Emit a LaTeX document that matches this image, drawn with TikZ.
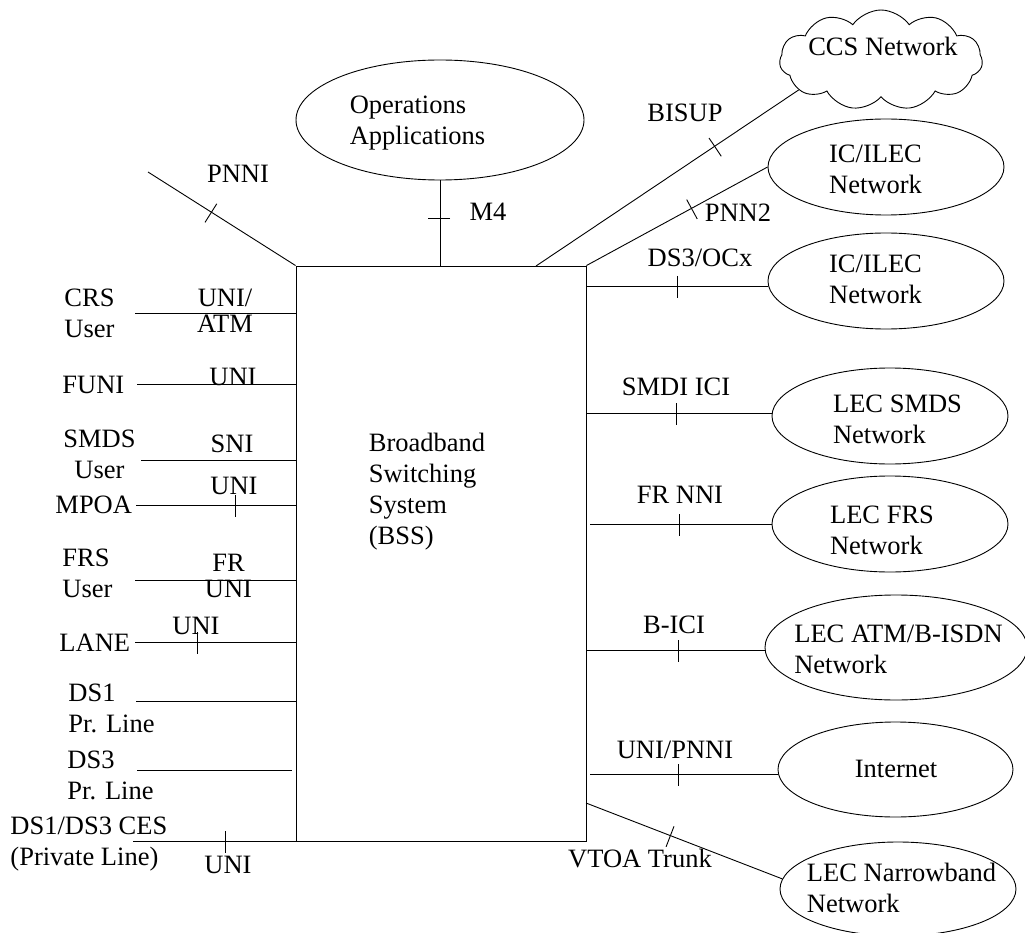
\documentclass[tikz,border=0pt]{standalone}
\usepackage{fontspec}
\setmainfont{Liberation Serif}
\usetikzlibrary{shapes.geometric,shapes.symbols,decorations.markings,positioning}

\tikzset{
  txt/.style={font=\fontsize{26.5}{31}\selectfont, inner sep=0pt},
  tight/.style={font=\fontsize{26.5}{26}\selectfont, inner sep=0pt, align=center},
  net/.style={draw, ellipse, inner sep=0pt, minimum width=236, minimum height=96},
  crossmark/.style={decoration={markings, mark=at position #1 with {\draw (0,-10) -- (0,12);}}, postaction={decorate}}
}

\begin{document}
\begin{tikzpicture}[x=1pt,y=-1pt,line width=0.9pt]
	\useasboundingbox (0,0) rectangle (1025,933);
	% switch
	\node[draw, inner sep=0pt, minimum width=290, minimum height=575] (bss) at (441,553.5) {};
	\node[txt, align=left] (bss-txt) at (427,492) {Broadband\\Switching\\System\\(BSS)};
	% networks
	\node[net, minimum width=288, minimum height=120] (ops) at (440,120) {};
	\node[cloud, draw, cloud puffs=11, cloud puff arc=110, aspect=2.1, inner sep=0pt, minimum width=203, minimum height=100] (ccs) at (881,60) {};
	\node[net] (ic1) at (886,167) {};
	\node[net] (ic2) at (886,281) {};
	\node[net] (smds) at (890,416) {};
	\node[net] (frs) at (890,524) {};
	\node[net, minimum width=262, minimum height=105] (atm) at (896,647.5) {};
	\node[net, minimum width=235, minimum height=95] (inet) at (895.5,769.5) {};
	\node[net, minimum height=94] (nb) at (898,889) {};
	\node[txt, align=left] (ops-txt) at (417.5,123) {Operations\\Applications};
	\node[txt] (ccs-txt) at (883,46.5) {CCS Network};
	\node[txt, align=center] (ic1-txt) at (875.5,169.5) {IC/ILEC\\Network};
	\node[txt, align=center] (ic2-txt) at (875.5,279) {IC/ILEC\\Network};
	\node[txt, align=left] (smds-txt) at (897.5,419) {LEC SMDS\\Network};
	\node[txt, align=left] (frs-txt) at (882,530) {LEC FRS\\Network};
	\node[txt, align=left] (atm-txt) at (898.5,649) {LEC ATM/B-ISDN\\Network};
	\node[txt] (inet-txt) at (896,768.5) {Internet};
	\node[txt, align=left] (nb-txt) at (901.5,887.5) {LEC Narrowband\\Network};
	% users on the left
	\node[txt, align=left, anchor=west] (crs) at (64,313.75) {CRS\\User};
	\node[txt, anchor=base west] (funi) at (62,393) {FUNI};
	\node[txt, align=center] (smdsu) at (99.5,454.75) {SMDS\\User};
	\node[txt, anchor=base west] (mpoa) at (55,513) {MPOA};
	\node[txt, align=left, anchor=west] (frsu) at (62,573.75) {FRS\\User};
	\node[txt, anchor=base west] (lane) at (59,651) {LANE};
	\node[txt, align=left, anchor=west] (ds1) at (68,708.25) {DS1\\Pr. Line};
	\node[txt, align=left, anchor=west] (ds3) at (67,775.25) {DS3\\Pr. Line};
	\node[txt, align=left, anchor=west] (ces) at (10,844.5) {DS1/DS3 CES\\(Private Line)};
	% free ends
	\coordinate (pnni-end) at (148,172);
	\coordinate (crs-end) at (135,313);
	\coordinate (funi-end) at (137,384);
	\coordinate (smds-end) at (141,460);
	\coordinate (mpoa-end) at (136,505);
	\coordinate (frs-end) at (135,580);
	\coordinate (lane-end) at (135,642);
	\coordinate (ds1-end) at (136,701);
	\coordinate (ds3-end) at (137,770);
	\coordinate (ces-end) at (133,841);
	\coordinate (bisup-start) at (536,266);
	\coordinate (dso-start) at (586,286);
	\coordinate (smdi-start) at (586,413);
	\coordinate (frnni-start) at (590,524);
	\coordinate (bici-start) at (586,650);
	\coordinate (unipnni-start) at (590,774);
	\coordinate (vtoa-start) at (586,803);
	% left links
	\draw[crossmark=.43] (pnni-end) -- (bss.north west);
	\draw (crs-end) -- (crs-end -| bss.west);
	\draw (funi-end) -- (funi-end -| bss.west);
	\draw (smds-end) -- (smds-end -| bss.west);
	\draw[crossmark=.625] (mpoa-end) -- (mpoa-end -| bss.west);
	\draw (frs-end) -- (frs-end -| bss.west);
	\draw[crossmark=.39] (lane-end) -- (lane-end -| bss.west);
	\draw (ds1-end) -- (ds1-end -| bss.west);
	\draw[shorten >=4] (ds3-end) -- (ds3-end -| bss.west);
	\draw[crossmark=.57] (ces-end) -- (ces-end -| bss.west);
	% top and right links
	\draw[crossmark=.45] (ops.south) -- (ops.south |- bss.north);
	\draw[crossmark=.68] (bisup-start) -- (ccs.200);
	\draw[crossmark=.58] (bss.north east) -- (ic1.west);
	\draw[crossmark=.505] (dso-start) -- (dso-start -| ic2.west);
	\draw[crossmark=.49] (smdi-start) -- (smdi-start -| smds.west);
	\draw[crossmark=.49] (frnni-start) -- (frnni-start -| frs.west);
	\draw[crossmark=.52] (bici-start) -- (bici-start -| atm.west);
	\draw[crossmark=.47] (unipnni-start) -- (unipnni-start -| inet.west);
	\draw[crossmark=.43] (vtoa-start) -- (nb.175);
	% interface labels
	\node[txt, anchor=base] (pnni-lbl) at (238,183) {PNNI};
	\node[tight] (uniatm-lbl) at (225,311) {UNI/\\ATM};
	\node[txt, anchor=base] (funi-lbl) at (233,385) {UNI};
	\node[txt, anchor=base] (sni-lbl) at (232,452) {SNI};
	\node[txt, anchor=base] (mpoa-lbl) at (234,494) {UNI};
	\node[tight] (fruni-lbl) at (228.5,576) {FR\\UNI};
	\node[txt, anchor=base] (lane-lbl) at (196,634) {UNI};
	\node[txt, anchor=base] (ces-lbl) at (228,873) {UNI};
	\node[txt, anchor=base] (m4-lbl) at (488,221) {M4};
	\node[txt, anchor=base] (bisup-lbl) at (685,122) {BISUP};
	\node[txt, anchor=base] (pnn2-lbl) at (738,222) {PNN2};
	\node[txt, anchor=base] (dso-lbl) at (700,267) {DS3/OCx};
	\node[txt, anchor=base] (smdi-lbl) at (676,395) {SMDI ICI};
	\node[txt, anchor=base] (frnni-lbl) at (680,503) {FR NNI};
	\node[txt, anchor=base] (bici-lbl) at (674,633) {B-ICI};
	\node[txt, anchor=base] (unipnni-lbl) at (675,758) {UNI/PNNI};
	\node[txt, anchor=base] (vtoa-lbl) at (640,867) {VTOA Trunk};
\end{tikzpicture}
\end{document}
